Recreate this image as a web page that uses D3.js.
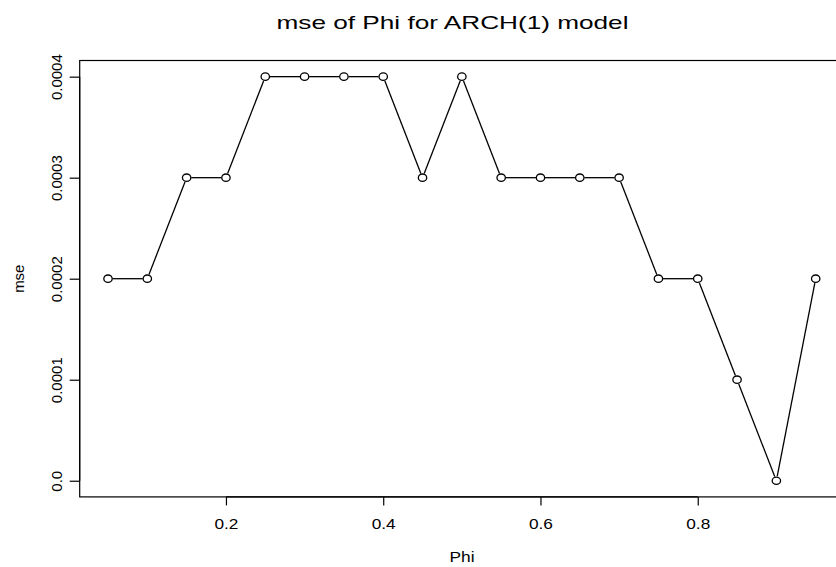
<!DOCTYPE html>
<html>
<head>
<meta charset="utf-8">
<script src="https://cdn.jsdelivr.net/npm/d3@7"></script>
<style>
  html, body { margin: 0; padding: 0; background: #fff; }
  svg { display: block; font-family: "Liberation Sans", Arial, Helvetica, sans-serif; }
</style>
</head>
<body>
<script>
const phi = [0.05, 0.10, 0.15, 0.20, 0.25, 0.30, 0.35, 0.40, 0.45, 0.50, 0.55, 0.60, 0.65, 0.70, 0.75, 0.80, 0.85, 0.90, 0.95];
const mse = [0.0002, 0.0002, 0.0003, 0.0003, 0.0004, 0.0004, 0.0004, 0.0004, 0.0003, 0.0004, 0.0003, 0.0003, 0.0003, 0.0003, 0.0002, 0.0002, 0.0001, 0.0000, 0.0002];
const xTicks = [0.2, 0.4, 0.6, 0.8];
const xTickLabels = ["0.2", "0.4", "0.6", "0.8"];
const yTicks = [0.0000, 0.0001, 0.0002, 0.0003, 0.0004];
const yTickLabels = ["0.0", "0.0001", "0.0002", "0.0003", "0.0004"];
const titleText = "mse of Phi for ARCH(1) model";
const xLabel = "Phi";
const yLabel = "mse";

(function () {
const W = 836, H = 567;
const pLeft = 79.7, pRight = 844, pTop = 60.5, pBottom = 496.9;

const svg = d3.select("body").append("svg").attr("width", W).attr("height", H);

// R-style 4% axis extension
const xr = d3.extent(phi), yr = [0, 0.0004];
const xpad = (xr[1] - xr[0]) * 0.04, ypad = (yr[1] - yr[0]) * 0.04;
const x = d3.scaleLinear().domain([xr[0] - xpad, xr[1] + xpad]).range([pLeft, pRight]);
const y = d3.scaleLinear().domain([yr[0] - ypad, yr[1] + ypad]).range([pBottom, pTop]);

// box
svg.append("rect").attr("x", pLeft).attr("y", pTop).attr("width", pRight - pLeft).attr("height", pBottom - pTop)
  .attr("fill", "none").attr("stroke", "#000").attr("stroke-width", 1.2);

// x axis
const xAxis = d3.axisBottom(x).tickValues(xTicks).tickFormat((d, i) => xTickLabels[i]).tickSize(8.5).tickPadding(0);
const gx = svg.append("g").attr("transform", `translate(0,${pBottom})`).call(xAxis);
gx.select(".domain").attr("d", `M${x(xTicks[0])},0H${x(xTicks[xTicks.length - 1])}`).attr("stroke-width", 1.2);
gx.selectAll(".tick line").attr("stroke-width", 1.2);
gx.selectAll(".tick text").attr("font-size", 15).attr("fill", "#000")
  .attr("font-family", "Liberation Sans, Arial, sans-serif")
  .attr("dy", null).attr("y", 32).attr("textLength", 24).attr("lengthAdjust", "spacingAndGlyphs");

// y axis
const yAxis = d3.axisLeft(y).tickValues(yTicks).tickFormat((d, i) => yTickLabels[i]).tickSize(10).tickPadding(0);
const gy = svg.append("g").attr("transform", `translate(${pLeft},0)`).call(yAxis);
gy.select(".domain").attr("d", `M0,${y(yTicks[0])}V${y(yTicks[yTicks.length - 1])}`).attr("stroke-width", 1.2);
gy.selectAll(".tick line").attr("stroke-width", 1.2);
gy.selectAll(".tick text").attr("font-size", 15).attr("fill", "#000")
  .attr("font-family", "Liberation Sans, Arial, sans-serif")
  .attr("x", null).attr("dy", null).attr("text-anchor", "middle")
  .attr("transform", "translate(-18,0) rotate(-90)");

// line with gaps around points (type = "b")
const pts = phi.map((p, i) => [x(p), y(mse[i])]);
const gap = 4.6;
const segs = [];
for (let i = 0; i < pts.length - 1; i++) {
  const [x1, y1] = pts[i], [x2, y2] = pts[i + 1];
  const dx = x2 - x1, dy = y2 - y1, L = Math.hypot(dx, dy);
  if (L > 2 * gap) {
    const ux = dx / L, uy = dy / L;
    segs.push([x1 + ux * gap, y1 + uy * gap, x2 - ux * gap, y2 - uy * gap]);
  }
}
svg.append("g").selectAll("line").data(segs).join("line")
  .attr("x1", d => d[0]).attr("y1", d => d[1]).attr("x2", d => d[2]).attr("y2", d => d[3])
  .attr("stroke", "#000").attr("stroke-width", 1.3);

svg.append("g").selectAll("ellipse").data(phi).join("ellipse")
  .attr("cx", d => x(d)).attr("cy", (d, i) => y(mse[i]))
  .attr("rx", 4.2).attr("ry", 3.7)
  .attr("fill", "none").attr("stroke", "#000").attr("stroke-width", 1.3);

// title
svg.append("text").attr("x", 276.5).attr("y", 29).attr("font-size", 19)
  .attr("textLength", 352).attr("lengthAdjust", "spacingAndGlyphs").attr("fill", "#000")
  .text(titleText);

// axis labels
svg.append("text").attr("x", 462).attr("y", 562).attr("font-size", 15).attr("text-anchor", "middle")
  .attr("textLength", 25).attr("lengthAdjust", "spacingAndGlyphs").attr("fill", "#000").text(xLabel);
svg.append("text").attr("transform", `translate(24,${(pTop + pBottom) / 2}) rotate(-90)`)
  .attr("font-size", 15).attr("text-anchor", "middle").attr("fill", "#000").text(yLabel);
})();
</script>
</body>
</html>
